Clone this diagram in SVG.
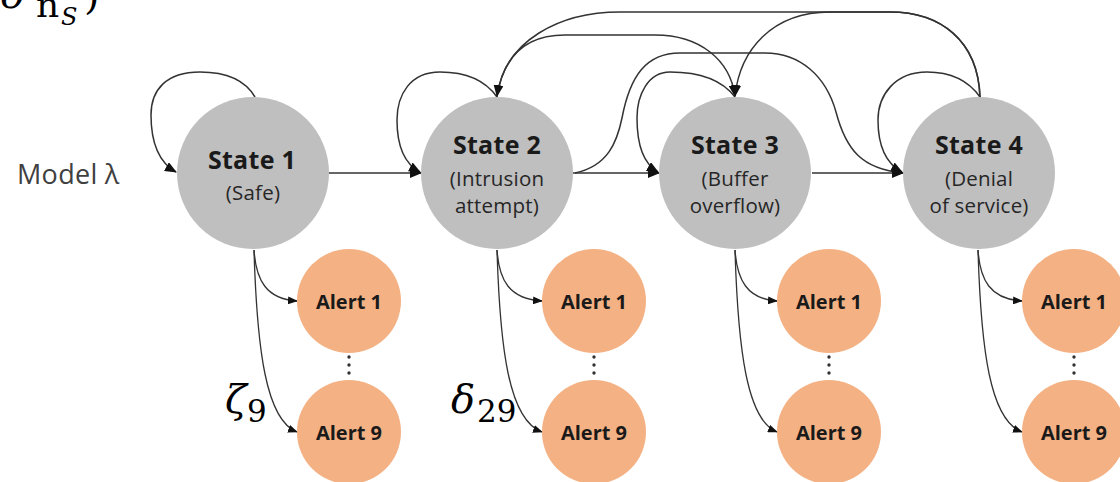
<svg xmlns="http://www.w3.org/2000/svg" width="1120" height="482" viewBox="0 0 1120 482">
  <style>
    .state { fill: #BFBFBF; }
    .alert { fill: #F4B183; }
    .title { font-family: "Open Sans", "Liberation Sans", sans-serif; font-weight: bold; font-size: 25px; fill: #1a1a1a; text-anchor: middle; letter-spacing: 0.3px; }
    .sub { font-family: "Open Sans", "Liberation Sans", sans-serif; font-size: 20.5px; fill: #262626; text-anchor: middle; letter-spacing: 0.2px; }
    .alabel { font-family: "Open Sans", "Liberation Sans", sans-serif; font-weight: bold; font-size: 20px; fill: #1a1a1a; text-anchor: middle; }
    .model { font-family: "Open Sans", "Liberation Sans", sans-serif; font-size: 27px; fill: #404040; letter-spacing: 0.3px; }
    .math { font-family: "DejaVu Serif", "Liberation Serif", serif; fill: #000; }
    .edge { fill: none; stroke: #333; stroke-width: 1.5; }
    .emit { fill: none; stroke: #333; stroke-width: 1.3; }
    .dot { fill: #333; }
  </style>
  <defs>
    <marker id="arrow" viewBox="0 0 12 10" refX="11" refY="5" markerWidth="12" markerHeight="10" markerUnits="userSpaceOnUse" orient="auto">
      <path d="M0,0 L12,5 L0,10 z" fill="#111"/>
    </marker>
    <marker id="arrowSmall" viewBox="0 0 10 8" refX="9" refY="4" markerWidth="10" markerHeight="8" markerUnits="userSpaceOnUse" orient="auto">
      <path d="M0,0 L10,4 L0,8 z" fill="#111"/>
    </marker>
  </defs>

  <rect width="1120" height="482" fill="#fff"/>

  <!-- formula running off the top edge -->
  <g id="formula-top" class="math">
    <text x="1" y="8" font-size="40" font-style="italic">δ</text>
    <text x="36" y="17" font-size="36">n</text>
    <text x="61" y="25" font-size="24" font-style="italic">S</text>
    <text x="84" y="9" font-size="40">)</text>
  </g>

  <text id="model-label" class="model" x="17" y="184">Model λ</text>

  <!-- connectors -->
  <g id="connectors">
    <!-- self loops -->
    <path class="edge" d="M255 97 C245 80 225 72 200 72 C166 72 151 90 151 115 C151 145 160 163 176 172" marker-end="url(#arrow)"/>
    <path class="edge" d="M497 97 C485 80 465 72 440 72 C410 72 397 95 397 120 C397 145 403 163 420 172" marker-end="url(#arrow)"/>
    <path class="edge" d="M735 97 C722 80 700 72 670 72 C648 72 637 95 637 118 C637 145 644 164 658 172" marker-end="url(#arrow)"/>
    <path class="edge" d="M980 97 C968 80 950 72 927 72 C895 72 878 95 878 120 C878 145 885 163 902 172" marker-end="url(#arrow)"/>

    <!-- forward transitions -->
    <path class="edge" d="M329 173 L421 173" marker-end="url(#arrow)"/>
    <path class="edge" d="M573 173 L659 173" marker-end="url(#arrow)"/>
    <path class="edge" d="M812 173 L903 173" marker-end="url(#arrow)"/>

    <!-- state 2 to state 3 over the top -->
    <path class="edge" d="M497 97 C503 57 525 35 565 35 L655 35 C700 35 730 60 735 96" marker-end="url(#arrow)"/>
    <!-- state 2 to state 4 -->
    <path class="edge" d="M575 173 C608 166 617 142 622 118 C630 76 646 53 680 53 L765 53 C800 53 826 76 836 112 C846 150 862 169 903 173" marker-end="url(#arrow)"/>
    <!-- state 4 back to state 2 -->
    <path class="edge" d="M980 97 C978 40 940 12 890 12 L620 12 C560 12 505 40 497 96" marker-end="url(#arrow)"/>
    <!-- state 4 back to state 3 -->
    <path class="edge" d="M980 97 C978 40 940 12 890 12 L830 12 C772 12 740 50 735 96" marker-end="url(#arrow)"/>

    <!-- emissions -->
    <path class="emit" d="M254 250 C256 280 266 299 297 301" marker-end="url(#arrowSmall)"/>
    <path class="emit" d="M254 250 C257 350 266 420 297 432" marker-end="url(#arrowSmall)"/>
    <path class="emit" d="M497 250 C499 280 509 299 542 301" marker-end="url(#arrowSmall)"/>
    <path class="emit" d="M497 250 C500 350 509 420 542 432" marker-end="url(#arrowSmall)"/>
    <path class="emit" d="M735 250 C737 280 747 299 777 301" marker-end="url(#arrowSmall)"/>
    <path class="emit" d="M735 250 C738 350 747 420 777 432" marker-end="url(#arrowSmall)"/>
    <path class="emit" d="M978 250 C980 280 990 299 1022 301" marker-end="url(#arrowSmall)"/>
    <path class="emit" d="M978 250 C981 350 990 420 1022 432" marker-end="url(#arrowSmall)"/>
  </g>

  <!-- hidden states -->
  <g id="state1">
    <circle class="state" cx="253" cy="173" r="76"/>
    <text class="title" x="252" y="169">State 1</text>
    <text class="sub" x="253" y="200">(Safe)</text>
  </g>
  <g id="state2">
    <circle class="state" cx="497" cy="173" r="76"/>
    <text class="title" x="497" y="154">State 2</text>
    <text class="sub" x="497" y="186">(Intrusion</text>
    <text class="sub" x="497" y="213">attempt)</text>
  </g>
  <g id="state3">
    <circle class="state" cx="735" cy="173" r="76"/>
    <text class="title" x="735" y="154">State 3</text>
    <text class="sub" x="735" y="186">(Buffer</text>
    <text class="sub" x="735" y="213">overflow)</text>
  </g>
  <g id="state4">
    <circle class="state" cx="979" cy="173" r="76"/>
    <text class="title" x="979" y="154">State 4</text>
    <text class="sub" x="979" y="186">(Denial</text>
    <text class="sub" x="979" y="213">of service)</text>
  </g>

  <!-- observation alerts -->
  <g id="alerts-s1">
    <circle class="alert" cx="349" cy="301" r="52"/>
    <text class="alabel" x="349" y="309">Alert 1</text>
    <circle class="dot" cx="349" cy="357" r="1.7"/>
    <circle class="dot" cx="349" cy="365" r="1.7"/>
    <circle class="dot" cx="349" cy="373" r="1.7"/>
    <circle class="alert" cx="349" cy="432" r="52"/>
    <text class="alabel" x="349" y="440">Alert 9</text>
  </g>
  <g id="alerts-s2">
    <circle class="alert" cx="594" cy="301" r="52"/>
    <text class="alabel" x="594" y="309">Alert 1</text>
    <circle class="dot" cx="594" cy="357" r="1.7"/>
    <circle class="dot" cx="594" cy="365" r="1.7"/>
    <circle class="dot" cx="594" cy="373" r="1.7"/>
    <circle class="alert" cx="594" cy="432" r="52"/>
    <text class="alabel" x="594" y="440">Alert 9</text>
  </g>
  <g id="alerts-s3">
    <circle class="alert" cx="829" cy="301" r="52"/>
    <text class="alabel" x="829" y="309">Alert 1</text>
    <circle class="dot" cx="829" cy="357" r="1.7"/>
    <circle class="dot" cx="829" cy="365" r="1.7"/>
    <circle class="dot" cx="829" cy="373" r="1.7"/>
    <circle class="alert" cx="829" cy="432" r="52"/>
    <text class="alabel" x="829" y="440">Alert 9</text>
  </g>
  <g id="alerts-s4">
    <circle class="alert" cx="1074" cy="301" r="52"/>
    <text class="alabel" x="1074" y="309">Alert 1</text>
    <circle class="dot" cx="1074" cy="357" r="1.7"/>
    <circle class="dot" cx="1074" cy="365" r="1.7"/>
    <circle class="dot" cx="1074" cy="373" r="1.7"/>
    <circle class="alert" cx="1074" cy="432" r="52"/>
    <text class="alabel" x="1074" y="440">Alert 9</text>
  </g>

  <!-- emission probability labels -->
  <g id="label-zeta" class="math">
    <text x="225" y="413" font-size="40" font-style="italic">ζ</text>
    <text x="247" y="422" font-size="31">9</text>
  </g>
  <g id="label-delta" class="math">
    <text x="451" y="413" font-size="40" font-style="italic">δ</text>
    <text x="477" y="422" font-size="31">29</text>
  </g>
</svg>
